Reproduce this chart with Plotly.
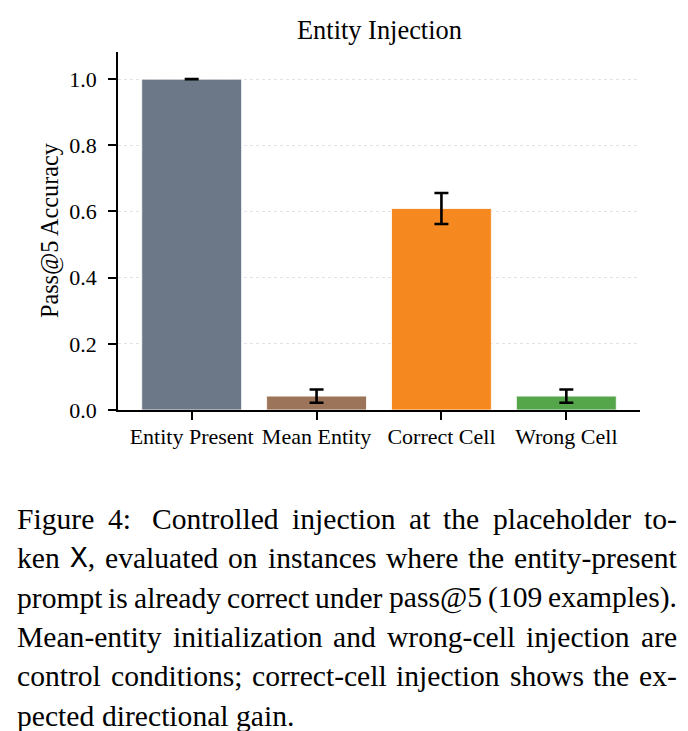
import plotly.graph_objects as go

# ---------------- data ----------------
categories = ["Entity Present", "Mean Entity", "Correct Cell", "Wrong Cell"]
accuracy = [1.0, 0.042, 0.609, 0.042]
err = [0.0, 0.02, 0.047, 0.02]
bar_colors = ["#6c7887", "#9c7459", "#f5881e", "#55a64b"]
y_ticks = [0.0, 0.2, 0.4, 0.6, 0.8, 1.0]
title_text = "Entity Injection"
y_label = "Pass@5 Accuracy"

caption_lines = [
    "Figure 4:  Controlled injection at the placeholder to-",
    "ken X, evaluated on instances where the entity-present",
    "prompt is already correct under pass@5 (109 examples).",
    "Mean-entity initialization and wrong-cell injection are",
    "control conditions; correct-cell injection shows the ex-",
    "pected directional gain.",
]

# ---------------- layout geometry ----------------
W, H = 688, 731
ML, MR, MT, MB = 118, 48, 52, 321
PW = W - ML - MR
PH = H - MT - MB
SERIF = "Liberation Serif, Times New Roman, serif"

fig = go.Figure()
fig.add_trace(go.Bar(
    x=list(range(len(categories))),
    y=accuracy,
    marker=dict(color=bar_colors, line=dict(color="white", width=0.8)),
    width=0.8,
    error_y=dict(type="data", array=err, visible=True, color="black",
                 thickness=2.6, width=7),
    showlegend=False,
))

fig.update_layout(
    width=W, height=H,
    margin=dict(l=ML, r=MR, t=MT, b=MB),
    paper_bgcolor="white", plot_bgcolor="white",
    font=dict(family=SERIF, color="black", size=22),
)
fig.update_xaxes(
    range=[-0.59, 3.59],
    tickmode="array", tickvals=list(range(len(categories))), ticktext=categories,
    showline=True, linecolor="black", linewidth=1.6,
    ticks="outside", ticklen=8, tickwidth=1.6, tickcolor="black",
    showgrid=False, zeroline=False,
    tickfont=dict(size=22, family=SERIF),
    ticklabelstandoff=-2,
)
fig.update_yaxes(
    range=[0, 1.082],
    tickmode="array", tickvals=y_ticks, ticktext=[f"{v:.1f}" for v in y_ticks],
    showline=True, linecolor="black", linewidth=1.6,
    ticks="outside", ticklen=8, tickwidth=1.6, tickcolor="black",
    showgrid=True, gridcolor="#e2e2e2", gridwidth=1, griddash="dot",
    zeroline=False,
    tickfont=dict(size=22, family=SERIF),
    ticklabelstandoff=7,
)

def px_to_paper_x(px):
    return (px - ML) / PW

def px_to_paper_y(py):
    return 1 - (py - MT) / PH

# title and y label
fig.add_annotation(text=title_text, x=0.5, xref="paper", y=px_to_paper_y(30),
                   yref="paper", showarrow=False, xanchor="center", yanchor="middle",
                   font=dict(size=26.4, family=SERIF))
fig.add_annotation(text=y_label, x=px_to_paper_x(50), xref="paper", y=0.5,
                   yref="paper", showarrow=False, textangle=-90,
                   xanchor="center", yanchor="middle",
                   font=dict(size=24.2, family=SERIF))

# ---------------- caption (justified, word by word) ----------------
TW = {' ': 250, '!': 333, '(': 333, ')': 333, ',': 250, '-': 333, '.': 250,
      ':': 278, ';': 278, '@': 921}
for d in "0123456789":
    TW[d] = 500
TW.update(dict(A=722, B=667, C=667, D=722, E=611, F=556, G=722, H=722, I=333,
               J=389, K=722, L=611, M=889, N=722, O=722, P=556, Q=722, R=667,
               S=556, T=611, U=722, V=722, W=944, X=722, Y=722, Z=611))
TW.update(dict(a=444, b=500, c=444, d=500, e=444, f=333, g=500, h=500, i=278,
               j=278, k=500, l=278, m=778, n=500, o=500, p=500, q=500, r=333,
               s=389, t=278, u=500, v=500, w=722, x=500, y=500, z=444))

CAP_FS = 29.6
LEFT, RIGHT = 16, 676
BASE0, LEAD = 528, 39.3

def word_width(w):
    if w == "X,":
        return (600 + 250) / 1000 * CAP_FS
    return sum(TW.get(ch, 500) for ch in w) / 1000 * CAP_FS

def word_markup(w):
    if w == "X,":
        return "<span style='font-family:Liberation Mono, DejaVu Sans Mono, monospace'>X</span>,"
    return w

for li, line in enumerate(caption_lines):
    raw = line.split(" ")
    words, weights = [], []
    for tok in raw:
        if tok == "":
            weights[-1] += 0.6
            continue
        words.append(tok)
        weights.append(1.0)
    weights = weights[:-1]
    widths = [word_width(w) for w in words]
    last = li == len(caption_lines) - 1
    if last:
        gap_unit = 250 / 1000 * CAP_FS
    else:
        gap_unit = (RIGHT - LEFT - sum(widths)) / sum(weights)
    yb = BASE0 + li * LEAD
    x = LEFT
    for wi, w in enumerate(words):
        fig.add_annotation(text=word_markup(w), x=px_to_paper_x(x), xref="paper",
                           y=px_to_paper_y(yb - 9), yref="paper", showarrow=False,
                           xanchor="left", yanchor="middle", borderpad=0,
                           font=dict(size=CAP_FS, family=SERIF))
        x += widths[wi]
        if wi < len(weights):
            x += gap_unit * weights[wi]

fig.write_html("out.html")
